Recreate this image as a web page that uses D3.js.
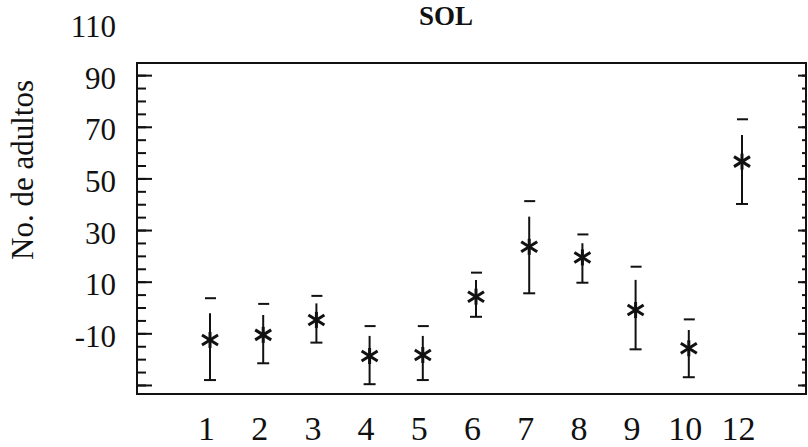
<!DOCTYPE html>
<html>
<head>
<meta charset="utf-8">
<script src="https://cdn.jsdelivr.net/npm/d3@7"></script>
<style>
  html, body { margin: 0; padding: 0; background: #fff; }
  svg { display: block; }
  text { font-family: "Liberation Serif", "Times New Roman", serif; fill: #111; }
</style>
</head>
<body>
<svg id="chart" width="808" height="447"></svg>
<script>
// ---- data ----
const title = "SOL";
const yLabel = "No. de adultos";
const categories = ["1", "2", "3", "4", "5", "6", "7", "8", "9", "10", "12"];
const means      = [-12.6, -10.6, -4.8, -18.8, -18.4, 4.2, 23.5, 19.4, -1.0, -15.8, 56.5];
const lowerBar   = [-28.1, -21.6, -13.6, -29.7, -28.1, -3.6, 5.5, 9.6, -16.2, -27.0, 40.1];
const upperLine  = [-2.2, -2.9, 1.6, -11.0, -11.0, 10.7, 35.2, 24.9, 10.7, -8.7, 66.8];
const upperCap   = [3.6, 1.4, 4.5, -7.2, -7.2, 13.5, 41.2, 28.3, 15.8, -4.6, 72.9];
const yTickLabels = [110, 90, 70, 50, 30, 10, -10];
const yMajorTicks = [-30, -10, 10, 30, 50, 70, 90];
const yMinorTicks = d3.range(-30, 91, 5);

(function () {
  // ---- layout ----
  const svg = d3.select("#chart");
  const pLeft = 137, pRight = 806, pTop = 63, pBottom = 394;

  const y = d3.scaleLinear().domain([-33.5, 94.7]).range([pBottom, pTop]);
  const x = d3.scalePoint().domain(categories).range([210, 742]);

  const ink = "#111";

  // frame
  svg.append("rect")
    .attr("x", pLeft).attr("y", pTop)
    .attr("width", pRight - pLeft).attr("height", pBottom - pTop)
    .attr("fill", "none").attr("stroke", ink).attr("stroke-width", 2);

  // left axis: minor and major ticks (inward)
  svg.append("g").attr("transform", `translate(${pLeft},0)`)
    .call(d3.axisLeft(y).tickValues(yMinorTicks).tickSize(-9).tickFormat(""))
    .call(g => g.select(".domain").remove())
    .call(g => g.selectAll("line").attr("stroke", ink).attr("stroke-width", 2));
  svg.append("g").attr("transform", `translate(${pLeft},0)`)
    .call(d3.axisLeft(y).tickValues(yMajorTicks).tickSize(-15).tickFormat(""))
    .call(g => g.select(".domain").remove())
    .call(g => g.selectAll("line").attr("stroke", ink).attr("stroke-width", 2));

  // right axis: minor dots and major ticks (inward)
  svg.append("g").attr("transform", `translate(${pRight},0)`)
    .call(d3.axisRight(y).tickValues(yMinorTicks).tickSize(-4).tickFormat(""))
    .call(g => g.select(".domain").remove())
    .call(g => g.selectAll("line").attr("stroke", ink).attr("stroke-width", 2));
  svg.append("g").attr("transform", `translate(${pRight},0)`)
    .call(d3.axisRight(y).tickValues(yMajorTicks).tickSize(-8).tickFormat(""))
    .call(g => g.select(".domain").remove())
    .call(g => g.selectAll("line").attr("stroke", ink).attr("stroke-width", 2));

  // y tick labels (plain hyphen minus, as in the reference)
  svg.append("g").attr("transform", `translate(${pLeft},0)`)
    .call(d3.axisLeft(y).tickValues(yTickLabels).tickSize(0).tickPadding(21).tickFormat(d => String(d)))
    .call(g => g.select(".domain").remove())
    .call(g => g.selectAll("text")
      .attr("font-family", "Liberation Serif").attr("font-size", 31)
      .attr("fill", ink).attr("dy", "0.42em"));

  // x labels
  svg.append("g").attr("transform", `translate(-4,${pBottom})`)
    .call(d3.axisBottom(x).tickSize(0).tickPadding(22))
    .call(g => g.select(".domain").remove())
    .call(g => g.selectAll("text")
      .attr("font-family", "Liberation Serif").attr("font-size", 34)
      .attr("fill", ink));

  // error bars
  const pts = categories.map((c, i) => ({c, m: means[i], lo: lowerBar[i], hiL: upperLine[i], cap: upperCap[i]}));
  const eb = svg.append("g").attr("stroke", ink).attr("fill", "none");
  eb.selectAll(".v").data(pts).join("line").attr("class", "v")
    .attr("x1", d => x(d.c)).attr("x2", d => x(d.c))
    .attr("y1", d => y(d.lo)).attr("y2", d => y(d.hiL))
    .attr("stroke-width", 2);
  eb.selectAll(".lc").data(pts).join("line").attr("class", "lc")
    .attr("x1", d => x(d.c) - 6).attr("x2", d => x(d.c) + 6)
    .attr("y1", d => y(d.lo)).attr("y2", d => y(d.lo))
    .attr("stroke-width", 2);
  eb.selectAll(".uc").data(pts).join("line").attr("class", "uc")
    .attr("x1", d => x(d.c) - 5).attr("x2", d => x(d.c) + 6)
    .attr("y1", d => y(d.cap)).attr("y2", d => y(d.cap))
    .attr("stroke-width", 2);

  // asterisk markers
  const star = svg.append("g").attr("stroke", ink).attr("stroke-width", 3).attr("stroke-linecap", "butt");
  const arms = [[-8, -5, 8, 5], [-8, 5, 8, -5], [0, -8, 0, 8]];
  pts.forEach(d => {
    const cx = x(d.c), cy = y(d.m);
    arms.forEach(a => {
      star.append("line")
        .attr("x1", cx + a[0]).attr("y1", cy + a[1])
        .attr("x2", cx + a[2]).attr("y2", cy + a[3]);
    });
  });

  // title
  svg.append("text")
    .attr("x", 446).attr("y", 25)
    .attr("text-anchor", "middle")
    .attr("font-size", 27).attr("font-weight", "bold")
    .text(title);

  // y axis label
  svg.append("text")
    .attr("transform", "translate(33,170) rotate(-90)")
    .attr("text-anchor", "middle")
    .attr("font-size", 31)
    .text(yLabel);
})();
</script>
</body>
</html>
